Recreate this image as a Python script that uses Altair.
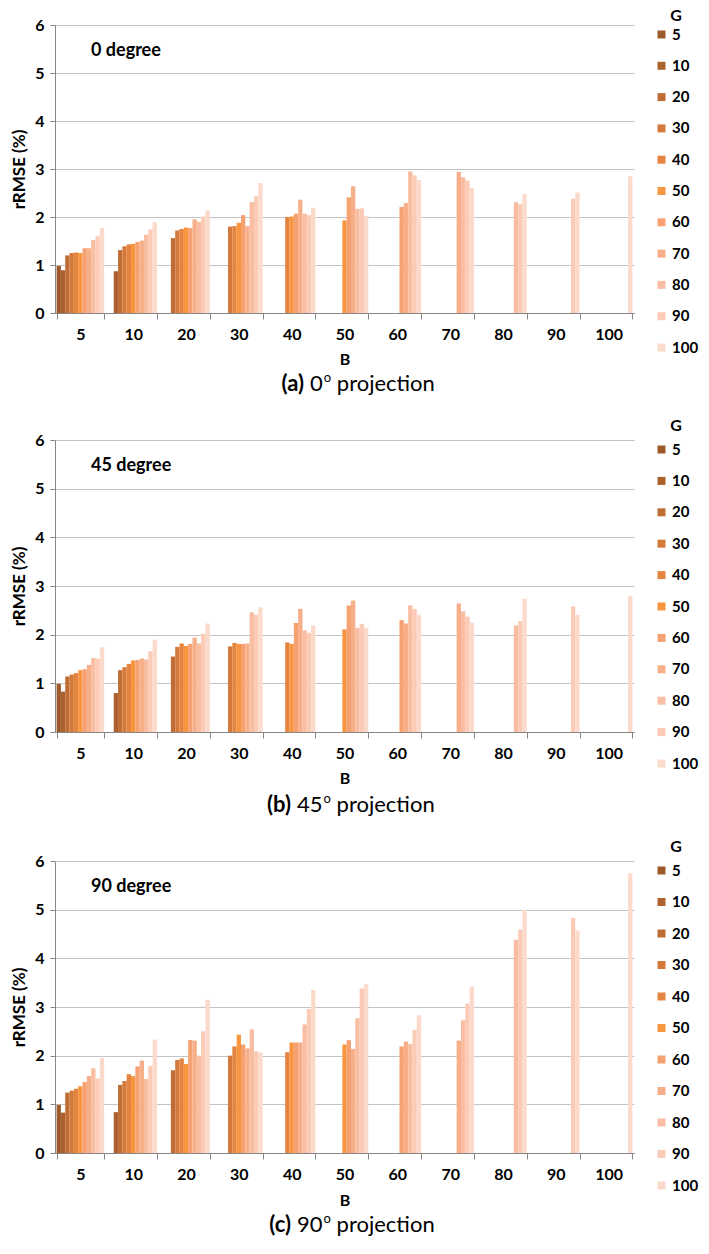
import altair as alt
import pandas as pd

B_LABELS = ["5", "10", "20", "30", "40", "50", "60", "70", "80", "90", "100"]
G_LABELS = ["5", "10", "20", "30", "40", "50", "60", "70", "80", "90", "100"]
G_COLORS = ["#9c5a2c", "#ab622f", "#bf6c35", "#d3793a", "#e5843e", "#f7963f",
            "#f6a171", "#f7af8a", "#f9bda2", "#fbcbb6", "#fcdacb"]

# values per B group; group i holds G = G_LABELS[i:]
DEG0 = [
    [0.98, 0.89, 1.20, 1.25, 1.26, 1.25, 1.35, 1.35, 1.52, 1.60, 1.77],
    [0.87, 1.31, 1.39, 1.43, 1.44, 1.48, 1.51, 1.63, 1.74, 1.89],
    [1.56, 1.72, 1.75, 1.78, 1.77, 1.95, 1.90, 2.01, 2.14],
    [1.80, 1.81, 1.88, 2.04, 1.81, 2.31, 2.43, 2.71],
    [2.00, 2.01, 2.07, 2.36, 2.07, 2.04, 2.19],
    [1.93, 2.41, 2.64, 2.17, 2.18, 2.02],
    [2.21, 2.29, 2.95, 2.87, 2.77],
    [2.94, 2.83, 2.76, 2.61],
    [2.31, 2.27, 2.48],
    [2.38, 2.51],
    [2.85],
]
DEG45 = [
    [0.99, 0.83, 1.14, 1.18, 1.21, 1.27, 1.29, 1.38, 1.52, 1.51, 1.74],
    [0.80, 1.27, 1.33, 1.40, 1.47, 1.48, 1.51, 1.49, 1.66, 1.90],
    [1.55, 1.75, 1.82, 1.77, 1.81, 1.94, 1.82, 2.02, 2.23],
    [1.76, 1.83, 1.81, 1.81, 1.82, 2.46, 2.41, 2.56],
    [1.84, 1.81, 2.24, 2.53, 2.09, 2.04, 2.19],
    [2.11, 2.60, 2.70, 2.14, 2.22, 2.14],
    [2.30, 2.23, 2.60, 2.53, 2.41],
    [2.64, 2.48, 2.37, 2.25],
    [2.19, 2.28, 2.74],
    [2.58, 2.41],
    [2.80],
]
DEG90 = [
    [0.99, 0.83, 1.24, 1.28, 1.32, 1.37, 1.46, 1.58, 1.74, 1.53, 1.95],
    [0.84, 1.40, 1.48, 1.62, 1.58, 1.78, 1.90, 1.52, 1.79, 2.33],
    [1.70, 1.91, 1.94, 1.83, 2.32, 2.31, 2.00, 2.50, 3.15],
    [2.00, 2.19, 2.43, 2.23, 2.15, 2.54, 2.09, 2.07],
    [2.07, 2.27, 2.27, 2.27, 2.64, 2.96, 3.35],
    [2.23, 2.32, 2.14, 2.77, 3.38, 3.47],
    [2.19, 2.29, 2.24, 2.53, 2.83],
    [2.31, 2.73, 3.07, 3.42],
    [4.38, 4.59, 5.00],
    [4.83, 4.57],
    [5.75],
]

FONT = "Lato"
W = 579


def panel(vals, label_text, letter, num, height, cap_off, lab_pad, xtitle_pad,
          legend_y, legend_tpad, row_pad, cap_right):
    rows = []
    for bi, b in enumerate(B_LABELS):
        for gi, v in enumerate(vals[bi]):
            rows.append({"B": b, "G": G_LABELS[bi + gi], "v": v})
    df = pd.DataFrame(rows)

    bars = alt.Chart(df).mark_bar().encode(
        x=alt.X("B:N", sort=B_LABELS,
                scale=alt.Scale(domain=B_LABELS, paddingInner=0.1, paddingOuter=0.03),
                axis=alt.Axis(title="B", labelAngle=0, tickBand="extent", grid=False,
                              tickSize=6, labelPadding=lab_pad, titlePadding=xtitle_pad,
                              titleFontSize=16)),
        xOffset=alt.XOffset("G:N", sort=G_LABELS,
                            scale=alt.Scale(domain=G_LABELS, paddingInner=0, paddingOuter=0)),
        y=alt.Y("v:Q", scale=alt.Scale(domain=[0, 6]),
                axis=alt.Axis(title="rRMSE (%)", values=[0, 1, 2, 3, 4, 5, 6],
                              tickSize=5, labelPadding=6, titlePadding=6,
                              titleFontSize=17)),
        color=alt.Color("G:N", scale=alt.Scale(domain=G_LABELS, range=G_COLORS),
                        legend=alt.Legend(title="G", orient="none", legendX=W + 20,
                                          legendY=legend_y, symbolType="square",
                                          symbolSize=64, symbolStrokeWidth=0,
                                          rowPadding=row_pad, labelOffset=3,
                                          titleAnchor="middle", titlePadding=legend_tpad)),
    )

    deg = alt.Chart(pd.DataFrame({"t": [label_text]})).mark_text(
        align="left", baseline="middle", font=FONT, fontSize=18, fontWeight="bold",
        color="#000000").encode(text="t:N", x=alt.value(36), y=alt.value(26))

    cap_y = height + cap_off
    cap1 = alt.Chart(pd.DataFrame({"t": [letter]})).mark_text(
        align="right", baseline="alphabetic", font=FONT, fontSize=22, fontWeight="bold",
        color="#000000").encode(text="t:N", x=alt.value(cap_right), y=alt.value(cap_y))
    numw = 12.8 * len(num)
    cap2 = alt.Chart(pd.DataFrame({"t": [num]})).mark_text(
        align="left", baseline="alphabetic", font=FONT, fontSize=22,
        color="#000000").encode(text="t:N", x=alt.value(cap_right + 6), y=alt.value(cap_y))
    cap3 = alt.Chart(pd.DataFrame({"t": ["o"]})).mark_text(
        align="left", baseline="alphabetic", font=FONT, fontSize=13,
        color="#000000").encode(text="t:N", x=alt.value(cap_right + 7 + numw),
                                y=alt.value(cap_y - 9))
    cap4 = alt.Chart(pd.DataFrame({"t": ["projection"]})).mark_text(
        align="left", baseline="alphabetic", font=FONT, fontSize=22,
        color="#000000").encode(text="t:N", x=alt.value(cap_right + 20 + numw),
                                y=alt.value(cap_y))

    return alt.layer(bars, deg, cap1, cap2, cap3, cap4).properties(width=W, height=height)


pa = panel(DEG0, "0 degree", "(a)", "0", 288, 78, 7, 9, -17, 3, 15.3, 249)
pb = panel(DEG45, "45 degree", "(b)", "45", 292, 80, 7, 9, -22, 8, 15.4, 236)
pc = panel(DEG90, "90 degree", "(c)", "90", 292, 79, 7, 10, -22, 8, 15.5, 236)

chart = alt.vconcat(pa, pb, pc, spacing=23).resolve_scale(color="independent").properties(
    padding={"left": 2, "top": 0, "right": 0, "bottom": 0}
).configure_view(strokeWidth=0).configure_axis(
    labelFont=FONT, titleFont=FONT, labelFontSize=16, titleFontSize=16,
    labelFontWeight="bold", titleFontWeight="bold", labelColor="#000000",
    titleColor="#000000", domainColor="#868686", tickColor="#868686",
    gridColor="#c4c4c4", gridWidth=1
).configure_legend(
    labelFont=FONT, titleFont=FONT, labelFontSize=15, titleFontSize=16,
    labelFontWeight="bold", titleFontWeight="bold", labelColor="#000000",
    titleColor="#000000"
)

chart.save("out.html", embed_options={"renderer": "svg", "actions": False})
